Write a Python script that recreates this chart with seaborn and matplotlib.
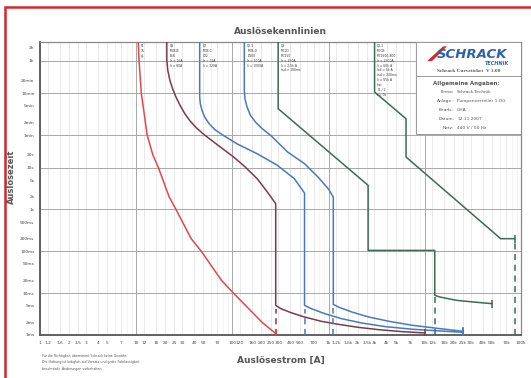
import numpy as np
import pandas as pd
import matplotlib
matplotlib.use("Agg")
import matplotlib.pyplot as plt
from matplotlib.patches import Rectangle, Polygon
import seaborn as sns

sns.set_style("white")
plt.rcParams['font.family'] = ['DejaVu Sans']

# ---------------- data (current [A], time [s]) ----------------
red_I = [10.5, 10.7, 11.3, 13.0, 14.9, 17.0, 22.0, 25.9, 37.3, 47.5, 77.3, 102.6, 204, 282]
red_t = [10000, 3600, 600, 60, 20, 10, 2, 1, 0.2, 0.1, 0.02, 0.01, 0.002, 0.00108]

brown_I = [20.8, 20.8, 21.3, 22.4, 23.9, 25.9, 28.6, 32.0, 36.4, 42.1, 49.5, 60.7, 77.3,
           103, 136, 181, 231, 282, 282, 319, 406, 562, 843, 1262, 2051, 3334, 5875, 10000]
brown_t = [10000, 3770, 2099, 1211, 766, 484, 306, 194, 129, 89.6, 64.4, 44.7, 29.3,
           17.9, 10.3, 5.42, 2.6, 1.37, 0.0051, 0.00426, 0.00342, 0.00269, 0.00212, 0.0018,
           0.00152, 0.00134, 0.0012, 0.00112]

blue1_I = [45.7, 45.7, 46.4, 48.3, 51.5, 57.3, 65.8, 80.5, 111, 181, 294, 441, 562,
           562, 661, 914, 1368, 2224, 3926, 7499, 14330, 24850]
blue1_t = [10000, 484, 335, 232, 161, 112, 80.2, 58.7, 37.2, 21.4, 11.3, 5.42, 2.46,
           0.0051, 0.00426, 0.00323, 0.00245, 0.00193, 0.00158, 0.00137, 0.00125, 0.00116]

blue2_I = [133, 133, 135, 142, 154, 174, 204, 250, 375, 562, 776, 991, 1119,
           1119, 1262, 1746, 2617, 4254, 7499, 14330, 25250]
blue2_t = [10000, 698, 442, 279, 177, 122, 84.8, 58.7, 23.5, 12.4, 5.94, 3.13, 1.98,
           0.0054, 0.00466, 0.00354, 0.00269, 0.00212, 0.0017, 0.00142, 0.00122]

green1_I = [299, 299, 2576, 2576, 12690, 12690, 14330, 21460, 32200, 50240]
green1_t = [10000, 255, 3.76, 0.105, 0.105, 0.00886, 0.00808, 0.00673, 0.00614, 0.0056]

green2_I = [3005, 3005, 6378, 6378, 61500, 86500]
green2_t = [10000, 637, 147, 17.9, 0.200, 0.200]

# dashed instantaneous markers: current, upper time
dash_I = [282, 562, 1119, 12690, 86500]
dash_top = [0.0042, 0.0042, 0.0044, 0.0082, 0.17]

curve_labels = ["F1\n16\ngL",
                "Q6\nMCB-B\nB16\nIr = 16A\nIi = 80A",
                "Q7\nMCB-C\nC32\nIr = 32A\nIi = 320A",
                "Q2.1\nMCB-D\nD100\nIr = 100A\nIi = 1000A",
                "Q3\nMC1D\nMC250\nIr = 250A\nIi = 2,5k A\ntsd = 100ms",
                "Q2.1\nMCCB\nMC1600-800\nIr = 2500A\nIi = 60k A\nIsd = 5k A\ntsd = 200ms\nIi = 65k A\nInst.\nT1 / 2\nt = 0s"]
label_x = [11.2, 22.5, 49.0, 143, 320, 3200]

ytick_vals = [7200, 3600, 1200, 600, 300, 120, 60, 20, 10, 5, 2, 1, 0.5, 0.2, 0.1,
              0.05, 0.02, 0.01, 0.005, 0.002, 0.001]
ytick_labels = ["2h", "1h", "20min", "10min", "5min", "2min", "1min", "20s", "10s", "5s",
                "2s", "1s", "500ms", "200ms", "100ms", "50ms", "20ms", "10ms", "5ms", "2ms", "1ms"]
ymajor = [3600, 600, 60, 10, 1, 0.1, 0.01]

mant = [1, 1.2, 1.6, 2, 2.5, 3, 4, 5, 7]
mant_lbl = ["1", "1,2", "1,6", "2", "2,5", "3", "4", "5", "7"]
xtick_vals = []
xtick_labels = []
for dec, suf in [(1, ""), (10, ""), (100, ""), (1000, "k"), (10000, "k")]:
    for m, ml in zip(mant, mant_lbl):
        v = m * dec
        xtick_vals.append(v)
        if suf == "k":
            s = ("%g" % (v / 1000)).replace(".", ",") + "k"
        else:
            s = ("%g" % v).replace(".", ",")
        xtick_labels.append(s)
xtick_vals.append(100000)
xtick_labels.append("100k")

# ---------------- figure ----------------
W, H = 531, 378
fig = plt.figure(figsize=(W / 100, H / 100), dpi=100)
fig.patch.set_facecolor("white")
ax = fig.add_axes([40 / W, 1 - 335 / H, 481 / W, 293 / H])
ax.set_xscale("log")
ax.set_yscale("log")
ax.set_xlim(1, 1e5)
ax.set_ylim(1e-3, 1e4)

# grid
for v in xtick_vals:
    if v in (10, 100, 1000, 10000):
        ax.axvline(v, color="#a8a8a8", lw=0.7, zorder=0)
    else:
        ax.axvline(v, color="#e0e0e0", lw=0.5, zorder=0)
for v in [6, 8, 9, 60, 80, 90, 600, 800, 900, 6000, 8000, 9000, 60000, 80000, 90000]:
    ax.axvline(v, color="#ececec", lw=0.4, zorder=0)
for v in ymajor:
    ax.axhline(v, color="#a8a8a8", lw=0.7, zorder=0)

red = "#e0474c"
brown = "#7a3a4e"
blue = "#4a78c0"
green = "#3c6b55"

curves = [(red_I, red_t, red), (brown_I, brown_t, brown), (blue1_I, blue1_t, blue),
          (blue2_I, blue2_t, blue), (green1_I, green1_t, green), (green2_I, green2_t, green)]
for I, t, c in curves:
    df = pd.DataFrame({"I": I, "t": t})
    sns.lineplot(data=df, x="I", y="t", sort=False, estimator=None, color=c, lw=1.1,
                 ax=ax, zorder=4)

# end caps
for I, t, c in curves:
    ax.scatter([I[-1]], [t[-1]], marker="|", s=40, color=c, linewidths=1.1, zorder=5)

# dashed lines
dash_cols = [brown, blue, blue, green, green]
for x, top, c in zip(dash_I, dash_top, dash_cols):
    ax.plot([x, x], [1e-3, top], ls=(0, (4, 3)), color=c, lw=1.1, zorder=4)

# curve labels
for xl, txt in zip(label_x, curve_labels):
    ax.text(xl, 9000, txt, fontsize=2.2, color="#333333", va="top", ha="left",
            linespacing=1.3, zorder=6)

# ticks
ax.set_yticks(ytick_vals)
ax.set_yticklabels(ytick_labels)
ax.set_xticks(xtick_vals)
ax.set_xticklabels(xtick_labels)
ax.minorticks_off()
ax.tick_params(axis="both", which="major", direction="inout", length=4, width=0.8,
               color="#555555", labelsize=3.1, labelcolor="#444444", pad=2)

for s in ["left", "bottom"]:
    ax.spines[s].set_color("#555555")
    ax.spines[s].set_linewidth(1.3)
for s in ["top", "right"]:
    ax.spines[s].set_color("#888888")
    ax.spines[s].set_linewidth(0.9)

ax.set_title("Auslösekennlinien", fontsize=6.5, fontweight="bold", color="#555555", pad=6)
ax.set_xlabel("Auslösestrom [A]", fontsize=6.5, fontweight="bold", color="#555555", labelpad=8)
ax.set_ylabel("Auslösezeit", fontsize=6, fontweight="bold", color="#555555")
ax.yaxis.set_label_coords(-0.05, 0.54)

# info box
ax.add_patch(Rectangle((0.782, 0.685), 0.218, 0.315, transform=ax.transAxes,
                       facecolor="white", edgecolor="#9a9a9a", lw=0.7, zorder=7))
ax.plot([0.782, 1.0], [0.883, 0.883], transform=ax.transAxes, color="#9a9a9a", lw=0.7, zorder=8)
ax.add_patch(Polygon([[0.805, 0.935], [0.838, 0.985], [0.846, 0.985], [0.815, 0.935]],
                     closed=True, transform=ax.transAxes, facecolor="#d7262b",
                     edgecolor="none", zorder=8))
ax.text(0.898, 0.958, "SCHRACK", transform=ax.transAxes, fontsize=9.5, fontweight="bold",
        style="italic", color="#2a62ab", ha="center", va="center", zorder=9)
ax.text(0.975, 0.927, "TECHNIK", transform=ax.transAxes, fontsize=3.5, fontweight="bold",
        style="italic", color="#2a62ab", ha="right", va="center", zorder=9)
ax.text(0.891, 0.902, "Schrack Curveticket  V 1.00", transform=ax.transAxes, fontsize=3.8,
        family="Liberation Serif", fontweight="bold", color="#555555", ha="center",
        va="center", zorder=9)
ax.text(0.887, 0.860, "Allgemeine Angaben:", transform=ax.transAxes, fontsize=4.0,
        fontweight="bold", color="#555555", ha="center", va="center", zorder=9)
info_keys = ["Firma:", "Anlage:", "Bearb.:", "Datum:", "Netz:"]
info_vals = ["Schrack-Technik", "Pumpenverteiler 1.OG", "GHA", "12.11.2007", "440 V / 50 Hz"]
for i, (k, v) in enumerate(zip(info_keys, info_vals)):
    yy = 0.830 - i * 0.031
    ax.text(0.861, yy, k, transform=ax.transAxes, fontsize=3.2, color="#555555",
            ha="right", va="center", zorder=9)
    ax.text(0.867, yy, v, transform=ax.transAxes, fontsize=3.2, color="#555555",
            ha="left", va="center", zorder=9)

# footnote
fig.text(42 / W, 1 - 354 / H,
         "Für die Richtigkeit übernimmt Schrack keine Gewähr.\n"
         "Die Haftung ist lediglich auf Vorsatz und grobe Fahrlässigkeit\n"
         "beschränkt. Änderungen vorbehalten.",
         fontsize=2.3, color="#555555", va="top", ha="left", linespacing=1.6)

# red frame
fig.add_artist(Rectangle((5 / W, -0.05), 1.2, 1 - 7 / H + 0.05, transform=fig.transFigure,
                         fill=False, edgecolor="#d7262b", lw=1.8))

fig.savefig("out.png", dpi=100, facecolor="white")
